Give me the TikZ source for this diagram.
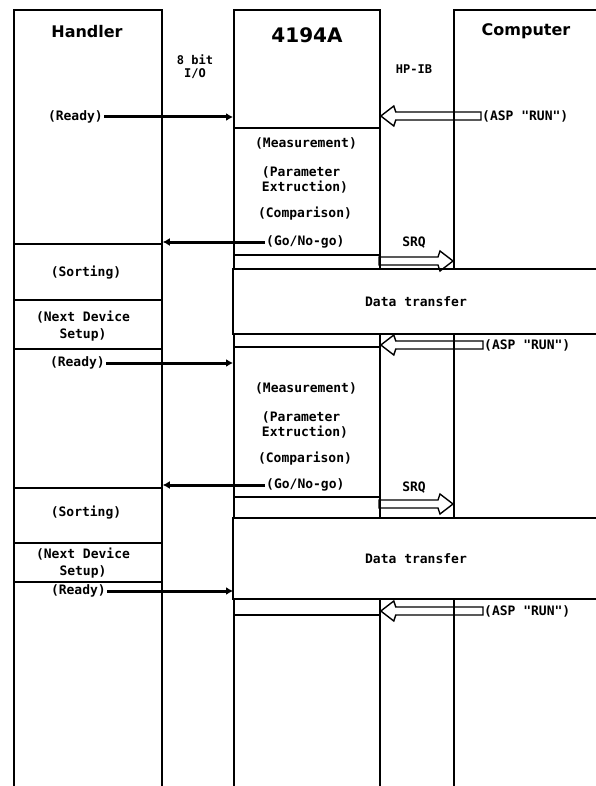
\documentclass[tikz,border=0pt]{standalone}
\usepackage{fontspec}
\newfontfamily\plotfont{DejaVu Sans Mono}
\newfontfamily\headfont{DejaVu Sans}
\usetikzlibrary{arrows.meta,calc}

\begin{document}
\begin{tikzpicture}[
  x=1pt,y=-1pt,>=Latex,
  lane/.style={draw,line width=1.8pt,anchor=north west,minimum height=820pt,inner sep=0pt},
  heading/.style={font=\headfont\bfseries\fontsize{16}{18}\selectfont,inner sep=0pt},
  tag/.style={font=\plotfont\bfseries\fontsize{13}{15}\selectfont,align=center,inner sep=1pt},
  small/.style={font=\plotfont\bfseries\fontsize{12}{13}\selectfont,align=center,inner sep=1pt},
  xfer/.style={draw,fill=white,line width=1.8pt,minimum width=366pt,inner sep=0pt,
    font=\plotfont\bfseries\fontsize{13}{15}\selectfont},
  divider/.style={line width=1.8pt},
  wire/.style={-{Latex[length=7pt,width=8pt]},line width=3pt},
  bus/.style={line width=1.4pt,line join=miter,
    to path={let \p1=(\tikztostart),\p2=(\tikztotarget),\n1={sign(\x1-\x2)} in
      (\x1,\y1+4pt) -- (\x2+\n1*15pt,\y1+4pt) -- (\x2+\n1*13pt,\y1+10pt) -- (\x2,\y1)
      -- (\x2+\n1*13pt,\y1-10pt) -- (\x2+\n1*15pt,\y1-4pt) -- (\x1,\y1-4pt) -- cycle}}
]
\useasboundingbox (0,0) rectangle (596,786);
\clip (0,0) rectangle (596,786);
\node[lane,minimum width=148pt] (handler) at (13,9) {};
\node[lane,minimum width=146pt] (meter) at (233,9) {};
\node[lane,minimum width=180pt] (computer) at (453,9) {};
\node[xfer,minimum height=65pt] (xferA) at (416,301.5) {Data transfer};
\node[xfer,minimum height=81pt] (xferB) at (416,558.5) {Data transfer};
\foreach \y in {244,300,349,488,543,582}
  \draw[divider] (handler.west |- 0,\y) -- (handler.east |- 0,\y);
\foreach \y in {128,255,347,497,615}
  \draw[divider] (meter.west |- 0,\y) -- (meter.east |- 0,\y);
\node[heading] (handlername) at (87,32) {Handler};
\node[heading,font=\headfont\bfseries\fontsize{20}{22}\selectfont] (metername) at (307,35) {4194A};
\node[heading] (computername) at (526,31) {Computer};
\node[small] (iobus) at (195,67) {8 bit\\I/O};
\node[small] (hpib) at (414,69) {HP-IB};
\node[tag,anchor=east] (readyA) at (104,117) {(Ready)};
\node[tag,anchor=west] (aspA) at (481,116) {(ASP "RUN")};
\node[tag] (measureA) at (306,143) {(Measurement)};
\node[tag,align=left] (extractA) at (305,180) {(Parameter\\Extruction)};
\node[tag] (compareA) at (305,214) {(Comparison)};
\node[tag,anchor=west] (gonogoA) at (265,242) {(Go/No-go)};
\node[tag] (srqtxtA) at (414,243) {SRQ};
\coordinate (srqA) at (379,261);
\node[tag] (sortA) at (86,273) {(Sorting)};
\node[tag,font=\plotfont\bfseries\fontsize{13}{17}\selectfont] (setupA) at (83,326.5) {(Next Device\\Setup)};
\node[tag,anchor=west] (aspB) at (483,345) {(ASP "RUN")};
\node[tag,anchor=east] (readyB) at (106,363) {(Ready)};
\node[tag] (measureB) at (306,388) {(Measurement)};
\node[tag,align=left] (extractB) at (305,424.5) {(Parameter\\Extruction)};
\node[tag] (compareB) at (305,459) {(Comparison)};
\node[tag,anchor=west] (gonogoB) at (265,485) {(Go/No-go)};
\node[tag] (srqtxtB) at (414,488) {SRQ};
\coordinate (srqB) at (379,504);
\node[tag] (sortB) at (86,513) {(Sorting)};
\node[tag,font=\plotfont\bfseries\fontsize{13}{17}\selectfont] (setupB) at (83,563.5) {(Next Device\\Setup)};
\node[tag,anchor=east] (readyC) at (107,591) {(Ready)};
\node[tag,anchor=west] (aspC) at (483,611) {(ASP "RUN")};
\draw[wire] (readyA) -- (readyA -| meter.west);
\draw[wire] (readyB) -- (readyB -| meter.west);
\draw[wire] (readyC) -- (readyC -| meter.west);
\draw[wire] (gonogoA) -- (gonogoA -| handler.east);
\draw[wire] (gonogoB) -- (gonogoB -| handler.east);
\draw[bus] (aspA.west) to (aspA.west -| meter.east);
\draw[bus] (aspB.west) to (aspB.west -| meter.east);
\draw[bus] (aspC.west) to (aspC.west -| meter.east);
\draw[bus] (srqA) to (srqA -| computer.west);
\draw[bus] (srqB) to (srqB -| computer.west);
\end{tikzpicture}
\end{document}
